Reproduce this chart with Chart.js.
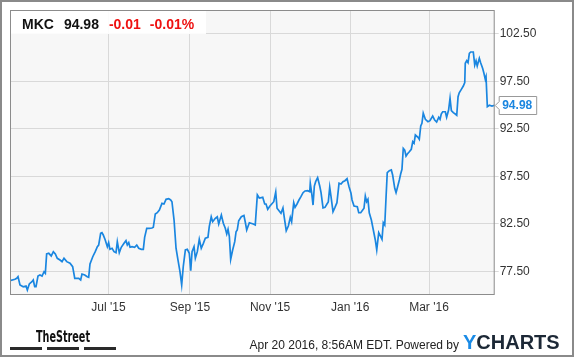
<!DOCTYPE html>
<html><head><meta charset="utf-8">
<script src="https://cdn.jsdelivr.net/npm/chart.js@4"></script>
<style>html,body{margin:0;padding:0;background:#fff}#wrap{width:575px;height:358px;position:relative}canvas{display:block}</style>
</head><body><div id="wrap"><canvas id="c" width="575" height="358"></canvas></div>
<script>
// Header / meta
const symbol = "MKC";
const lastPriceText = "94.98";
const changeText = "-0.01";
const changePctText = "-0.01%";
const footerText = "Apr 20 2016, 8:56AM EDT. Powered by";

// Days since Apr 17 2015
const dayOffsets = [
0, 3.8, 5.1, 6.1, 7.6, 10.1, 12.2, 13.2, 14.7, 16.7,
17.7, 18.8, 19.8, 21.3, 22.8, 24.4, 25.9, 26.9, 27.9, 29.5,
31.4, 33.0, 34.5, 36.0, 38.1, 39.6, 41.1, 43.2, 45.7, 47.7,
49.3, 52.3, 53.8, 54.8, 56.9, 58.8, 59.9, 60.9, 63.0, 64.9,
66.5, 67.5, 69.0, 70.0, 71.0, 72.5, 74.1, 75.1, 76.1, 77.7,
79.2, 80.7, 81.7, 83.2, 84.7, 86.8, 88.3, 89.3, 90.4, 91.4,
92.9, 94.9, 96.5, 98.0, 100.0, 101.5, 102.5, 104.1, 106.0, 108.1,
109.1, 110.6, 112.1, 113.7, 115.7, 117.2, 118.8, 120.8, 122.3, 123.3,
124.9, 126.4, 127.9, 129.4, 130.7, 131.9, 133.5, 135.0, 136.5, 137.6,
138.6, 140.1, 141.1, 142.6, 144.1, 145.6, 147.2, 148.7, 150.7, 151.7,
153.2, 154.3, 156.3, 157.8, 158.9, 160.9, 162.4, 163.9, 165.0, 166.0,
167.0, 168.0, 169.5, 171.1, 172.1, 173.0, 174.1, 176.1, 178.1, 179.1,
180.2, 182.2, 185.2, 186.7, 188.3, 189.8, 192.4, 193.9, 194.9, 196.2,
197.9, 200.8, 202.3, 203.3, 204.8, 206.3, 207.8, 208.8, 210.3, 211.9,
213.4, 214.4, 216.0, 217.0, 218.5, 220.0, 221.5, 223.1, 224.6, 226.6,
228.2, 228.6, 229.7, 230.7, 231.7, 232.7, 234.2, 235.8, 236.8, 238.3,
239.8, 241.3, 242.3, 243.4, 244.4, 245.9, 247.4, 248.9, 250.5, 252.0,
253.5, 255.0, 256.6, 258.1, 259.6, 260.4, 261.9, 264.4, 265.5, 267.0,
268.5, 269.5, 270.5, 271.5, 272.5, 273.5, 275.1, 276.6, 278.1, 279.2,
280.7, 282.2, 283.2, 284.2, 285.3, 286.3, 287.2, 288.8, 290.3, 291.3,
292.9, 293.9, 294.8, 296.4, 297.4, 298.4, 299.4, 300.5, 301.5, 302.5,
304.0, 305.5, 306.6, 307.6, 308.6, 310.6, 311.6, 312.7, 313.6, 314.6,
316.2, 318.2, 319.7, 321.8, 323.3, 324.8, 326.4, 327.4, 328.3, 329.4,
331.4, 332.4, 333.9, 335.0, 336.0, 337.5, 339.0, 340.1, 341.1, 342.0,
343.6, 345.1, 346.2, 346.6, 347.7, 348.7, 349.7, 350.7, 352.7, 353.8,
354.8, 355.7, 357.3, 358.3, 359.8, 360.8, 361.8, 362.4, 363.4, 364.9,
366.9, 369
];

const prices = [
76.51, 76.65, 76.76, 76.93, 76.05, 75.87, 75.95, 75.53, 76.16, 76.40,
76.58, 75.87, 75.87, 77.00, 77.11, 77.00, 77.45, 77.28, 79.32, 79.39,
79.11, 79.56, 79.32, 78.86, 78.68, 78.51, 78.86, 78.51, 78.34, 77.98,
76.76, 76.76, 76.58, 77.21, 77.11, 76.93, 76.86, 78.26, 79.03, 79.56,
80.08, 80.26, 81.49, 81.56, 81.32, 80.79, 80.08, 80.51, 79.81, 79.92,
79.56, 79.45, 80.61, 79.45, 80.02, 80.44, 80.72, 80.26, 80.51, 80.02,
80.08, 80.02, 80.26, 79.92, 79.81, 79.81, 81.07, 82.02, 82.02, 82.05,
82.13, 83.53, 83.66, 83.95, 84.65, 84.58, 85.07, 85.14, 85.00, 84.82,
82.89, 79.92, 78.68, 77.45, 76.05, 77.98, 79.74, 79.81, 79.39, 77.56,
79.56, 80.08, 78.86, 79.56, 80.86, 79.92, 80.44, 80.97, 81.07, 82.19,
83.24, 82.72, 83.07, 83.24, 82.47, 83.42, 82.55, 82.02, 81.42, 81.92,
81.14, 78.76, 79.74, 80.61, 81.66, 81.84, 82.82, 83.24, 83.37, 82.68,
81.84, 82.61, 82.47, 82.37, 85.53, 85.21, 85.28, 84.58, 84.58, 84.02,
84.37, 84.82, 85.84, 84.13, 83.87, 83.60, 84.16, 83.18, 81.77, 82.26,
83.18, 82.72, 84.72, 84.23, 84.58, 85.00, 85.35, 85.77, 85.95, 85.98,
85.88, 86.76, 85.70, 84.47, 86.47, 86.93, 87.35, 86.47, 85.77, 84.16,
84.23, 84.58, 84.79, 86.34, 85.35, 83.77, 84.23, 84.72, 86.76, 86.68,
86.93, 87.03, 87.24, 86.40, 85.71, 85.00, 84.37, 84.29, 83.66, 83.66,
83.95, 84.13, 85.42, 84.82, 85.07, 83.66, 82.89, 81.84, 80.79, 79.74,
81.56, 81.14, 80.86, 82.61, 82.37, 85.35, 87.87, 88.08, 88.16, 87.63,
86.23, 85.77, 86.23, 87.11, 87.74, 88.23, 90.44, 90.26, 89.63, 89.84,
90.08, 90.34, 91.14, 90.97, 91.84, 91.60, 91.39, 92.79, 93.07, 94.13,
93.49, 93.24, 93.35, 93.84, 93.42, 93.21, 93.71, 93.49, 94.05, 94.29,
94.29, 93.71, 94.47, 95.71, 94.40, 94.19, 94.05, 93.92, 95.87, 96.29,
96.65, 97.00, 97.35, 99.39, 99.66, 99.45, 100.44, 100.58, 100.58, 99.21,
99.66, 99.11, 99.92, 99.45, 98.86, 98.34, 97.71, 97.98, 94.82, 94.97,
94.89, 94.98
];

const yTicks = [77.5, 82.5, 87.5, 92.5, 97.5, 102.5];
const xTickDays = [75, 137, 198, 259, 319];
const xTickLabels = ["Jul '15", "Sep '15", "Nov '15", "Jan '16", "Mar '16"];

const LINE = '#1a86e0';
const GRID = '#d9d9d9';
const TXT = '#333333';
const FONT = "'Liberation Sans', Arial, sans-serif";

const points = dayOffsets.map((d, i) => ({x: d, y: prices[i]}));

const decor = {
  id: 'decor',
  beforeDraw(chart) {
    const {ctx, chartArea: a} = chart;
    ctx.save();
    ctx.fillStyle = '#fff';
    ctx.fillRect(0, 0, chart.width, chart.height);
    ctx.fillStyle = '#f7f7f7';
    ctx.fillRect(a.left, a.top, a.right - a.left, a.bottom - a.top);
    ctx.restore();
  },
  afterDraw(chart) {
    const {ctx, chartArea: a} = chart;
    const ys = chart.scales.y;
    ctx.save();
    // plot border
    ctx.strokeStyle = '#8c8c8c';
    ctx.lineWidth = 1;
    ctx.strokeRect(a.left + 0.5, a.top + 0.5, a.right - a.left - 1, a.bottom - a.top - 1);
    // outer frame
    ctx.strokeStyle = '#8a8a8a';
    ctx.lineWidth = 2;
    ctx.strokeRect(1, 1, chart.width - 3, chart.height - 3);

    // header box
    ctx.fillStyle = 'rgba(255,255,255,0.92)';
    ctx.fillRect(a.left + 1, a.top + 1, 195, 23);
    ctx.textBaseline = 'alphabetic';
    ctx.textAlign = 'left';
    ctx.font = "bold 14px " + FONT;
    let x = a.left + 12;
    const by = 28.5;
    ctx.fillStyle = '#111';
    ctx.fillText(symbol, x, by); x += ctx.measureText(symbol).width + 10;
    ctx.fillText(lastPriceText, x, by); x += ctx.measureText(lastPriceText).width + 10;
    ctx.fillStyle = '#ee1111';
    ctx.fillText(changeText, x, by); x += ctx.measureText(changeText).width + 9;
    ctx.fillText(changePctText, x, by);

    // last price tag
    const lastV = prices[prices.length - 1];
    const py = Math.round(ys.getPixelForValue(lastV)) + 0.5;
    const bx = a.right + 4.5, bw = 37.5, bh = 18;
    ctx.beginPath();
    ctx.moveTo(bx, py - bh / 2);
    ctx.lineTo(bx + bw, py - bh / 2);
    ctx.lineTo(bx + bw, py + bh / 2);
    ctx.lineTo(bx, py + bh / 2);
    ctx.lineTo(bx, py + 4);
    ctx.lineTo(bx - 4, py);
    ctx.lineTo(bx, py - 4);
    ctx.closePath();
    ctx.fillStyle = '#fff';
    ctx.fill();
    ctx.strokeStyle = '#999';
    ctx.lineWidth = 1;
    ctx.stroke();
    ctx.fillStyle = LINE;
    ctx.font = "bold 12px " + FONT;
    ctx.textBaseline = 'middle';
    ctx.fillText(lastPriceText, bx + 3, py + 0.5);

    // footer: TheStreet logo
    ctx.textBaseline = 'alphabetic';
    ctx.fillStyle = '#111';
    ctx.font = "bold 16px 'DejaVu Sans Condensed', 'DejaVu Sans', sans-serif";
    const tw = ctx.measureText('TheStreet').width;
    ctx.save();
    ctx.translate(36, 342);
    ctx.scale(54 / tw, 1);
    ctx.fillText('TheStreet', 0, 0);
    ctx.restore();
    ctx.fillStyle = '#2a2a2a';
    ctx.fillRect(10, 347, 32, 3);
    ctx.fillRect(47, 347, 32, 3);
    ctx.fillRect(84, 347, 32, 3);

    // footer text
    ctx.fillStyle = '#222';
    ctx.font = "12px " + FONT;
    ctx.textAlign = 'right';
    ctx.fillText(footerText, 459, 349);
    ctx.textAlign = 'left';
    ctx.font = "bold 20px " + FONT;
    ctx.fillStyle = '#1a8be6';
    ctx.fillText('Y', 463, 349);
    const yw = ctx.measureText('Y').width;
    ctx.fillStyle = '#1c2836';
    ctx.fillText('CHARTS', 463 + yw, 349);
    ctx.restore();
  }
};

new Chart(document.getElementById('c'), {
  type: 'line',
  data: {
    datasets: [{
      data: points,
      borderColor: LINE,
      borderWidth: 1.7,
      pointRadius: 0,
      tension: 0,
      fill: false
    }]
  },
  options: {
    responsive: false,
    animation: false,
    events: [],
    layout: {padding: {left: 10, top: 10, right: 0, bottom: 0}},
    plugins: {legend: {display: false}, tooltip: {enabled: false}},
    scales: {
      x: {
        type: 'linear',
        min: 0,
        max: 369,
        afterBuildTicks: s => { s.ticks = xTickDays.map(v => ({value: v})); },
        afterFit: s => { s.height = 63; },
        ticks: {
          callback: (v, i) => xTickLabels[i],
          autoSkip: false,
          maxRotation: 0,
          padding: 5,
          color: TXT,
          font: {family: FONT, size: 12}
        },
        grid: {color: GRID, drawTicks: false, lineWidth: 1},
        border: {display: false}
      },
      y: {
        position: 'right',
        min: 75,
        max: 105,
        afterBuildTicks: s => { s.ticks = yTicks.map(v => ({value: v})); },
        afterFit: s => { s.width = 80.3; },
        ticks: {
          callback: v => Number(v).toFixed(2),
          padding: 1,
          color: TXT,
          font: {family: FONT, size: 12}
        },
        grid: {color: GRID, tickLength: 4, tickColor: GRID, lineWidth: 1},
        border: {display: false}
      }
    }
  },
  plugins: [decor]
});
</script>
</body></html>
